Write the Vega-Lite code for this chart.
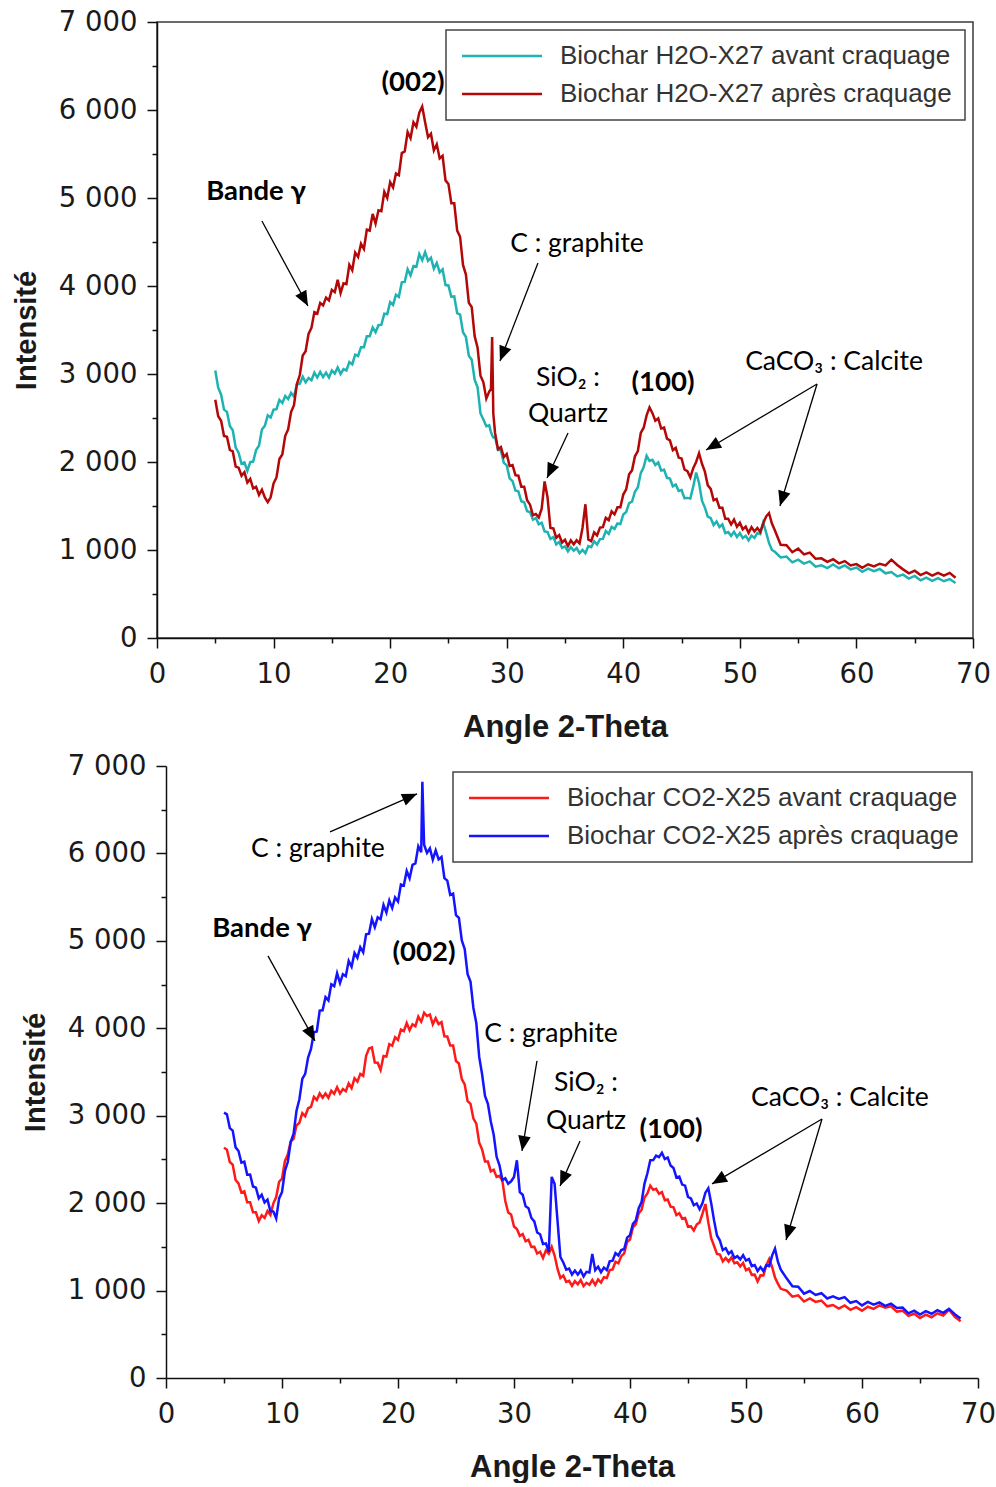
{
  "$schema": "https://vega.github.io/schema/vega-lite/v6.json",
  "background": "white",
  "padding": {"left": 11, "top": 7, "right": 0, "bottom": 0},
  "spacing": 8,
  "resolve": {"scale": {"color": "independent"}, "legend": {"color": "independent"}},
  "config": {
    "view": {"stroke": "#3a3a3a", "strokeWidth": 1.5},
    "line": {"strokeWidth": 2.5},
    "axis": {
      "grid": false,
      "domainColor": "#111",
      "domainWidth": 1.5,
      "tickColor": "#111",
      "tickWidth": 1.5,
      "labelFont": "DejaVu Sans",
      "labelFontSize": 27.5,
      "labelColor": "#1a1a1a",
      "labelFlush": false,
      "labelOverlap": false,
      "titleFont": "Liberation Sans",
      "titleFontSize": 30,
      "titleFontWeight": "bold",
      "titleColor": "#1a1a1a"
    },
    "legend": {
      "orient": "top-right",
      "offset": 8,
      "strokeColor": "#444",
      "strokeWidth": 1.5,
      "fillColor": "white",
      "padding": 13,
      "symbolType": "M-1,0H7",
      "symbolSize": 400,
      "symbolStrokeWidth": 2,
      "labelFont": "Liberation Sans",
      "labelFontSize": 26,
      "labelColor": "#333",
      "labelLimit": 600,
      "rowPadding": 12,
      "labelOffset": 75
    },
    "text": {"font": "Lato", "fontSize": 26.5, "color": "#000"}
  },
  "datasets": {
    "h2o": [
      {"x":5,"a":3040,"p":2708},{"x":5.25,"a":2845,"p":2520},{"x":5.5,"a":2765,"p":2468},{"x":5.75,"a":2595,"p":2296},
      {"x":6,"a":2570,"p":2286},{"x":6.25,"a":2410,"p":2138},{"x":6.5,"a":2360,"p":2120},{"x":6.75,"a":2165,"p":1948},
      {"x":7,"a":2105,"p":1936},{"x":7.25,"a":1980,"p":1844},{"x":7.5,"a":1995,"p":1884},{"x":7.75,"a":1900,"p":1766},
      {"x":8,"a":2000,"p":1808},{"x":8.25,"a":2005,"p":1700},{"x":8.5,"a":2135,"p":1718},{"x":8.75,"a":2185,"p":1626},
      {"x":9,"a":2370,"p":1686},{"x":9.25,"a":2410,"p":1598},{"x":9.5,"a":2530,"p":1545},{"x":9.75,"a":2505,"p":1598},
      {"x":10,"a":2595,"p":1756},{"x":10.25,"a":2600,"p":1824},{"x":10.5,"a":2705,"p":2034},{"x":10.75,"a":2670,"p":2086},
      {"x":11,"a":2750,"p":2298},{"x":11.25,"a":2715,"p":2370},{"x":11.5,"a":2785,"p":2568},{"x":11.75,"a":2745,"p":2646},
      {"x":12,"a":2880,"p":2886},{"x":12.25,"a":2890,"p":2988},{"x":12.5,"a":2970,"p":3210},{"x":12.75,"a":2905,"p":3258},
      {"x":13,"a":2955,"p":3456},{"x":13.25,"a":2930,"p":3524},{"x":13.5,"a":3015,"p":3704},{"x":13.75,"a":2960,"p":3686},
      {"x":14,"a":3025,"p":3808},{"x":14.25,"a":2965,"p":3780},{"x":14.5,"a":3015,"p":3868},{"x":14.75,"a":2960,"p":3836},
      {"x":15,"a":3040,"p":3956},{"x":15.25,"a":3005,"p":3930},{"x":15.5,"a":3075,"p":4070},{"x":15.75,"a":3000,"p":3920},
      {"x":16,"a":3055,"p":4030},{"x":16.25,"a":3040,"p":4020},{"x":16.5,"a":3135,"p":4240},{"x":16.75,"a":3110,"p":4180},
      {"x":17,"a":3220,"p":4380},{"x":17.25,"a":3205,"p":4330},{"x":17.5,"a":3305,"p":4480},{"x":17.75,"a":3305,"p":4420},
      {"x":18,"a":3430,"p":4640},{"x":18.25,"a":3430,"p":4630},{"x":18.5,"a":3530,"p":4820},{"x":18.75,"a":3475,"p":4710},
      {"x":19,"a":3555,"p":4860},{"x":19.25,"a":3560,"p":4850},{"x":19.5,"a":3685,"p":5070},{"x":19.75,"a":3680,"p":5000},
      {"x":20,"a":3816,"p":5180},{"x":20.25,"a":3785,"p":5120},{"x":20.5,"a":3901,"p":5280},{"x":20.75,"a":3877,"p":5260},
      {"x":21,"a":4042,"p":5510},{"x":21.25,"a":4046,"p":5530},{"x":21.5,"a":4190,"p":5750},{"x":21.75,"a":4121,"p":5680},
      {"x":22,"a":4227,"p":5860},{"x":22.25,"a":4218,"p":5810},{"x":22.5,"a":4363,"p":5970},{"x":22.75,"a":4292,"p":6040},
      {"x":23,"a":4386,"p":5860},{"x":23.25,"a":4285,"p":5690},{"x":23.5,"a":4321,"p":5730},{"x":23.75,"a":4197,"p":5540},
      {"x":24,"a":4262,"p":5610},{"x":24.25,"a":4156,"p":5450},{"x":24.5,"a":4190,"p":5480},{"x":24.75,"a":4011,"p":5200},
      {"x":25,"a":4007,"p":5160},{"x":25.25,"a":3878,"p":4940},{"x":25.5,"a":3883,"p":4940},{"x":25.75,"a":3692,"p":4630},
      {"x":26,"a":3676,"p":4560},{"x":26.25,"a":3475,"p":4240},{"x":26.5,"a":3421,"p":4130},{"x":26.75,"a":3207,"p":3810},
      {"x":27,"a":3162,"p":3760},{"x":27.25,"a":2936,"p":3430},{"x":27.5,"a":2850,"p":3300},{"x":27.75,"a":2551,"p":2980},
      {"x":28,"a":2484,"p":2905},{"x":28.25,"a":2406,"p":2720},{"x":28.5,"a":2416,"p":2800},{"x":28.65,"a":2340,"p":2830},
      {"x":28.75,"a":2304,"p":3420},{"x":28.85,"a":2280,"p":2550},{"x":29,"a":2282,"p":2330},{"x":29.25,"a":2142,"p":2145},
      {"x":29.5,"a":2130,"p":2170},{"x":29.75,"a":1990,"p":2055},{"x":30,"a":1962,"p":2090},{"x":30.25,"a":1814,"p":1955},
      {"x":30.5,"a":1782,"p":1965},{"x":30.75,"a":1676,"p":1850},{"x":31,"a":1666,"p":1845},{"x":31.25,"a":1554,"p":1720},
      {"x":31.5,"a":1542,"p":1720},{"x":31.75,"a":1440,"p":1565},{"x":32,"a":1432,"p":1515},{"x":32.25,"a":1344,"p":1395},
      {"x":32.5,"a":1364,"p":1410},{"x":32.75,"a":1292,"p":1370},{"x":33,"a":1310,"p":1470},{"x":33.25,"a":1212,"p":1780},
      {"x":33.5,"a":1204,"p":1600},{"x":33.75,"a":1126,"p":1250},{"x":34,"a":1146,"p":1245},{"x":34.25,"a":1064,"p":1140},
      {"x":34.5,"a":1092,"p":1170},{"x":34.75,"a":1025,"p":1085},{"x":35,"a":1042,"p":1115},{"x":35.25,"a":984,"p":1045},
      {"x":35.5,"a":1034,"p":1110},{"x":35.75,"a":992,"p":1065},{"x":36,"a":1022,"p":1110},{"x":36.25,"a":965,"p":1075},
      {"x":36.5,"a":1002,"p":1250},{"x":36.75,"a":964,"p":1520},{"x":37,"a":1044,"p":1120},{"x":37.25,"a":1032,"p":1100},
      {"x":37.5,"a":1100,"p":1200},{"x":37.75,"a":1062,"p":1165},{"x":38,"a":1124,"p":1255},{"x":38.25,"a":1126,"p":1260},
      {"x":38.5,"a":1216,"p":1365},{"x":38.75,"a":1184,"p":1340},{"x":39,"a":1262,"p":1440},{"x":39.25,"a":1240,"p":1405},
      {"x":39.5,"a":1302,"p":1485},{"x":39.75,"a":1294,"p":1485},{"x":40,"a":1404,"p":1630},{"x":40.25,"a":1432,"p":1690},
      {"x":40.5,"a":1532,"p":1860},{"x":40.75,"a":1550,"p":1905},{"x":41,"a":1662,"p":2065},{"x":41.25,"a":1714,"p":2125},
      {"x":41.5,"a":1874,"p":2330},{"x":41.75,"a":1942,"p":2390},{"x":42,"a":2070,"p":2530},{"x":42.25,"a":2012,"p":2620},
      {"x":42.5,"a":2024,"p":2555},{"x":42.75,"a":1966,"p":2470},{"x":43,"a":1996,"p":2495},{"x":43.25,"a":1904,"p":2380},
      {"x":43.5,"a":1912,"p":2390},{"x":43.75,"a":1820,"p":2265},{"x":44,"a":1812,"p":2245},{"x":44.25,"a":1724,"p":2135},
      {"x":44.5,"a":1744,"p":2160},{"x":44.75,"a":1672,"p":2050},{"x":45,"a":1682,"p":2040},{"x":45.25,"a":1590,"p":1915},
      {"x":45.5,"a":1592,"p":1895},{"x":45.75,"a":1584,"p":1825},{"x":46,"a":1720,"p":1930},{"x":46.25,"a":1880,"p":2000},
      {"x":46.5,"a":1760,"p":2100},{"x":46.75,"a":1560,"p":1980},{"x":47,"a":1482,"p":1890},{"x":47.25,"a":1380,"p":1735},
      {"x":47.5,"a":1362,"p":1695},{"x":47.75,"a":1284,"p":1565},{"x":48,"a":1324,"p":1580},{"x":48.25,"a":1262,"p":1480},
      {"x":48.5,"a":1290,"p":1480},{"x":48.75,"a":1192,"p":1355},{"x":49,"a":1204,"p":1355},{"x":49.25,"a":1161,"p":1290},
      {"x":49.5,"a":1206,"p":1345},{"x":49.75,"a":1149,"p":1265},{"x":50,"a":1192,"p":1310},{"x":50.25,"a":1135,"p":1235},
      {"x":50.5,"a":1162,"p":1265},{"x":50.75,"a":1109,"p":1195},{"x":51,"a":1164,"p":1260},{"x":51.25,"a":1137,"p":1210},
      {"x":51.5,"a":1192,"p":1250},{"x":51.75,"a":1180,"p":1205},{"x":52,"a":1310,"p":1300},{"x":52.25,"a":1200,"p":1380},
      {"x":52.5,"a":1080,"p":1420},{"x":52.75,"a":1000,"p":1300},{"x":53,"a":980,"p":1225},{"x":53.5,"a":915,"p":1060},
      {"x":54,"a":925,"p":1055},{"x":54.5,"a":860,"p":975},{"x":55,"a":890,"p":1015},{"x":55.5,"a":845,"p":950},
      {"x":56,"a":870,"p":970},{"x":56.5,"a":810,"p":900},{"x":57,"a":825,"p":905},{"x":57.5,"a":795,"p":865},
      {"x":58,"a":835,"p":895},{"x":58.5,"a":793,"p":848},{"x":59,"a":824,"p":874},{"x":59.5,"a":780,"p":825},
      {"x":60,"a":800,"p":840},{"x":60.5,"a":753,"p":798},{"x":61,"a":788,"p":838},{"x":61.5,"a":759,"p":814},
      {"x":62,"a":784,"p":844},{"x":62.5,"a":735,"p":825},{"x":63,"a":750,"p":890},{"x":63.5,"a":700,"p":830},
      {"x":64,"a":720,"p":780},{"x":64.5,"a":675,"p":735},{"x":65,"a":705,"p":765},{"x":65.5,"a":655,"p":715},
      {"x":66,"a":685,"p":745},{"x":66.5,"a":650,"p":710},{"x":67,"a":680,"p":740},{"x":67.5,"a":645,"p":710},
      {"x":68,"a":670,"p":740},{"x":68.5,"a":625,"p":685}
    ],
    "co2": [
      {"x":5,"a":2635,"p":3036},{"x":5.25,"a":2610,"p":3016},{"x":5.5,"a":2470,"p":2858},{"x":5.75,"a":2440,"p":2830},
      {"x":6,"a":2265,"p":2638},{"x":6.25,"a":2225,"p":2596},{"x":6.5,"a":2120,"p":2464},{"x":6.75,"a":2135,"p":2474},
      {"x":7,"a":2010,"p":2326},{"x":7.25,"a":2010,"p":2328},{"x":7.5,"a":1895,"p":2190},{"x":7.75,"a":1895,"p":2178},
      {"x":8,"a":1795,"p":2056},{"x":8.25,"a":1860,"p":2096},{"x":8.5,"a":1830,"p":2008},{"x":8.75,"a":1910,"p":2040},
      {"x":9,"a":1865,"p":1908},{"x":9.25,"a":1995,"p":1906},{"x":9.5,"a":2070,"p":1824},{"x":9.75,"a":2245,"p":2054},
      {"x":10,"a":2280,"p":2126},{"x":10.25,"a":2480,"p":2368},{"x":10.5,"a":2555,"p":2470},{"x":10.75,"a":2705,"p":2698},
      {"x":11,"a":2735,"p":2796},{"x":11.25,"a":2890,"p":3056},{"x":11.5,"a":2920,"p":3188},{"x":11.75,"a":3030,"p":3420},
      {"x":12,"a":2995,"p":3478},{"x":12.25,"a":3085,"p":3666},{"x":12.5,"a":3100,"p":3764},{"x":12.75,"a":3215,"p":3954},
      {"x":13,"a":3180,"p":3964},{"x":13.25,"a":3255,"p":4202},{"x":13.5,"a":3205,"p":4205},{"x":13.75,"a":3255,"p":4357},
      {"x":14,"a":3205,"p":4319},{"x":14.25,"a":3285,"p":4504},{"x":14.5,"a":3250,"p":4482},{"x":14.75,"a":3325,"p":4630},
      {"x":15,"a":3255,"p":4517},{"x":15.25,"a":3305,"p":4619},{"x":15.5,"a":3280,"p":4596},{"x":15.75,"a":3370,"p":4771},
      {"x":16,"a":3316,"p":4704},{"x":16.25,"a":3428,"p":4862},{"x":16.5,"a":3390,"p":4805},{"x":16.75,"a":3478,"p":4927},
      {"x":17,"a":3456,"p":4869},{"x":17.25,"a":3686,"p":5074},{"x":17.5,"a":3768,"p":5082},{"x":17.75,"a":3780,"p":5250},
      {"x":18,"a":3608,"p":5157},{"x":18.25,"a":3606,"p":5269},{"x":18.5,"a":3524,"p":5246},{"x":18.75,"a":3684,"p":5411},
      {"x":19,"a":3676,"p":5324},{"x":19.25,"a":3818,"p":5462},{"x":19.5,"a":3800,"p":5375},{"x":19.75,"a":3898,"p":5497},
      {"x":20,"a":3866,"p":5449},{"x":20.25,"a":3986,"p":5644},{"x":20.5,"a":3968,"p":5632},{"x":20.75,"a":4060,"p":5800},
      {"x":21,"a":3978,"p":5717},{"x":21.25,"a":4046,"p":5869},{"x":21.5,"a":4024,"p":5886},{"x":21.75,"a":4134,"p":6081},
      {"x":22,"a":4076,"p":6014},{"x":22.1,"a":4110,"p":6820},{"x":22.25,"a":4178,"p":6100},{"x":22.5,"a":4140,"p":6005},
      {"x":22.75,"a":4158,"p":6057},{"x":23,"a":4046,"p":5929},{"x":23.25,"a":4116,"p":6034},{"x":23.5,"a":4048,"p":5932},
      {"x":23.75,"a":4070,"p":5960},{"x":24,"a":3908,"p":5717},{"x":24.25,"a":3906,"p":5689},{"x":24.5,"a":3804,"p":5526},
      {"x":24.75,"a":3804,"p":5541},{"x":25,"a":3626,"p":5294},{"x":25.25,"a":3598,"p":5262},{"x":25.5,"a":3420,"p":5005},
      {"x":25.75,"a":3358,"p":4907},{"x":26,"a":3166,"p":4619},{"x":26.25,"a":3136,"p":4534},{"x":26.5,"a":2968,"p":4232},
      {"x":26.75,"a":2910,"p":4060},{"x":27,"a":2692,"p":3672},{"x":27.25,"a":2614,"p":3474},{"x":27.5,"a":2476,"p":3226},
      {"x":27.75,"a":2476,"p":3136},{"x":28,"a":2364,"p":2934},{"x":28.25,"a":2382,"p":2782},{"x":28.5,"a":2300,"p":2530},
      {"x":28.75,"a":2312,"p":2432},{"x":29,"a":2254,"p":2264},{"x":29.25,"a":2024,"p":2284},{"x":29.5,"a":1892,"p":2222},
      {"x":29.75,"a":1870,"p":2250},{"x":30,"a":1732,"p":2300},{"x":30.25,"a":1704,"p":2490},{"x":30.5,"a":1626,"p":2126},
      {"x":30.75,"a":1646,"p":2096},{"x":31,"a":1564,"p":1964},{"x":31.25,"a":1582,"p":1942},{"x":31.5,"a":1500,"p":1830},
      {"x":31.75,"a":1502,"p":1792},{"x":32,"a":1424,"p":1664},{"x":32.25,"a":1444,"p":1644},{"x":32.5,"a":1372,"p":1532},
      {"x":32.75,"a":1460,"p":1540},{"x":33,"a":1422,"p":1442},{"x":33.25,"a":1500,"p":2300},{"x":33.5,"a":1400,"p":2220},
      {"x":33.75,"a":1250,"p":1800},{"x":34,"a":1144,"p":1384},{"x":34.25,"a":1172,"p":1322},{"x":34.5,"a":1100,"p":1240},
      {"x":34.75,"a":1112,"p":1252},{"x":35,"a":1054,"p":1184},{"x":35.25,"a":1109,"p":1229},{"x":35.5,"a":1072,"p":1182},
      {"x":35.75,"a":1120,"p":1230},{"x":36,"a":1052,"p":1162},{"x":36.25,"a":1089,"p":1214},{"x":36.5,"a":1066,"p":1206},
      {"x":36.75,"a":1121,"p":1420},{"x":37,"a":1064,"p":1234},{"x":37.25,"a":1127,"p":1272},{"x":37.5,"a":1090,"p":1210},
      {"x":37.75,"a":1152,"p":1262},{"x":38,"a":1144,"p":1234},{"x":38.25,"a":1234,"p":1334},{"x":38.5,"a":1242,"p":1342},
      {"x":38.75,"a":1330,"p":1430},{"x":39,"a":1312,"p":1402},{"x":39.25,"a":1394,"p":1464},{"x":39.5,"a":1426,"p":1476},
      {"x":39.75,"a":1556,"p":1606},{"x":40,"a":1584,"p":1634},{"x":40.25,"a":1722,"p":1762},{"x":40.5,"a":1760,"p":1800},
      {"x":40.75,"a":1882,"p":1942},{"x":41,"a":1924,"p":2014},{"x":41.25,"a":2064,"p":2224},{"x":41.5,"a":2112,"p":2342},
      {"x":41.75,"a":2200,"p":2490},{"x":42,"a":2152,"p":2492},{"x":42.25,"a":2164,"p":2544},{"x":42.5,"a":2106,"p":2526},
      {"x":42.75,"a":2126,"p":2576},{"x":43,"a":2034,"p":2504},{"x":43.25,"a":2042,"p":2522},{"x":43.5,"a":1960,"p":2430},
      {"x":43.75,"a":1952,"p":2402},{"x":44,"a":1864,"p":2294},{"x":44.25,"a":1884,"p":2304},{"x":44.5,"a":1822,"p":2212},
      {"x":44.75,"a":1830,"p":2200},{"x":45,"a":1732,"p":2072},{"x":45.25,"a":1734,"p":2054},{"x":45.5,"a":1686,"p":1976},
      {"x":45.75,"a":1756,"p":1996},{"x":46,"a":1780,"p":1930},{"x":46.25,"a":1880,"p":2000},{"x":46.5,"a":1990,"p":2120},
      {"x":46.75,"a":1780,"p":2170},{"x":47,"a":1600,"p":2000},{"x":47.25,"a":1510,"p":1800},{"x":47.5,"a":1420,"p":1630},
      {"x":47.75,"a":1412,"p":1572},{"x":48,"a":1334,"p":1464},{"x":48.25,"a":1374,"p":1484},{"x":48.5,"a":1332,"p":1422},
      {"x":48.75,"a":1380,"p":1450},{"x":49,"a":1312,"p":1372},{"x":49.25,"a":1324,"p":1394},{"x":49.5,"a":1276,"p":1356},
      {"x":49.75,"a":1316,"p":1406},{"x":50,"a":1234,"p":1344},{"x":50.25,"a":1252,"p":1362},{"x":50.5,"a":1180,"p":1280},
      {"x":50.75,"a":1182,"p":1292},{"x":51,"a":1104,"p":1224},{"x":51.25,"a":1174,"p":1269},{"x":51.5,"a":1172,"p":1222},
      {"x":51.75,"a":1290,"p":1290},{"x":52,"a":1360,"p":1280},{"x":52.25,"a":1270,"p":1400},{"x":52.5,"a":1150,"p":1480},
      {"x":52.75,"a":1080,"p":1330},{"x":53,"a":1020,"p":1240},{"x":53.5,"a":1000,"p":1140},{"x":54,"a":930,"p":1050},
      {"x":54.5,"a":945,"p":1045},{"x":55,"a":875,"p":965},{"x":55.5,"a":910,"p":995},{"x":56,"a":870,"p":950},
      {"x":56.5,"a":885,"p":970},{"x":57,"a":820,"p":910},{"x":57.5,"a":835,"p":935},{"x":58,"a":795,"p":905},
      {"x":58.5,"a":830,"p":925},{"x":59,"a":780,"p":860},{"x":59.5,"a":810,"p":880},{"x":60,"a":770,"p":830},
      {"x":60.5,"a":815,"p":870},{"x":61,"a":790,"p":840},{"x":61.5,"a":830,"p":865},{"x":62,"a":805,"p":825},
      {"x":62.5,"a":820,"p":850},{"x":63,"a":760,"p":800},{"x":63.5,"a":770,"p":805},{"x":64,"a":710,"p":740},
      {"x":64.5,"a":735,"p":770},{"x":65,"a":685,"p":725},{"x":65.5,"a":725,"p":765},{"x":66,"a":695,"p":735},
      {"x":66.5,"a":740,"p":775},{"x":67,"a":715,"p":745},{"x":67.5,"a":780,"p":790},{"x":68,"a":700,"p":730},
      {"x":68.5,"a":650,"p":680}
    ],
    "labels1": [
      {"x":21.96,"y":6307,"text":"(002)","kind":"band"},
      {"x":8.49,"y":5068,"text":"Bande γ","kind":"band"},
      {"x":43.41,"y":2898,"text":"(100)","kind":"band"},
      {"x":36.03,"y":4477,"text":"C : graphite","kind":"phase"},
      {"x":35.26,"y":2955,"text":"SiO₂ :","kind":"phase"},
      {"x":35.26,"y":2545,"text":"Quartz","kind":"phase"},
      {"x":58.08,"y":3136,"text":"CaCO₃ : Calcite","kind":"phase"}
    ],
    "arrows1": [
      {"x":9.0,"y":4739,"x2":12.95,"y2":3773},
      {"x":32.68,"y":4261,"x2":29.42,"y2":3148},
      {"x":35.26,"y":2330,"x2":33.46,"y2":1818},
      {"x":56.62,"y":2886,"x2":47.1,"y2":2136},
      {"x":56.62,"y":2886,"x2":53.44,"y2":1500}
    ],
    "labels2": [
      {"x":13.1,"y":6053,"text":"C : graphite","kind":"phase"},
      {"x":8.28,"y":5137,"text":"Bande γ","kind":"band"},
      {"x":22.24,"y":4863,"text":"(002)","kind":"band"},
      {"x":33.19,"y":3936,"text":"C : graphite","kind":"phase"},
      {"x":36.21,"y":3375,"text":"SiO₂ :","kind":"phase"},
      {"x":36.21,"y":2941,"text":"Quartz","kind":"phase"},
      {"x":43.53,"y":2838,"text":"(100)","kind":"band"},
      {"x":58.1,"y":3204,"text":"CaCO₃ : Calcite","kind":"phase"}
    ],
    "arrows2": [
      {"x":14.14,"y":6247,"x2":21.64,"y2":6682},
      {"x":8.79,"y":4828,"x2":12.84,"y2":3856},
      {"x":31.98,"y":3627,"x2":30.69,"y2":2597},
      {"x":35.69,"y":2712,"x2":33.97,"y2":2197},
      {"x":56.55,"y":2963,"x2":47.07,"y2":2220},
      {"x":56.55,"y":2963,"x2":53.45,"y2":1579}
    ]
  },
  "vconcat": [
    {
      "width": 816,
      "height": 616,
      "layer": [
        {
          "data": {"name": "h2o"},
          "mark": {"type": "line"},
          "encoding": {
            "x": {"field": "x", "type": "quantitative", "title": "Angle 2-Theta",
              "scale": {"domain": [0, 70], "nice": false},
              "axis": {"values": [0,5,10,15,20,25,30,35,40,45,50,55,60,65,70],
                "labelExpr": "datum.value % 10 === 0 ? datum.label : ''",
                "tickSize": {"condition": {"test": "datum.value % 10 === 0", "value": 10}, "value": 5},
                "labelPadding": 12, "titlePadding": 25, "titleFontSize": 31}},
            "y": {"field": "a", "type": "quantitative", "title": "Intensité",
              "scale": {"domain": [0, 7000], "nice": false},
              "axis": {"values": [0,500,1000,1500,2000,2500,3000,3500,4000,4500,5000,5500,6000,6500,7000],
                "labelExpr": "datum.value % 1000 === 0 ? replace(format(datum.value, ','), ',', ' ') : ''",
                "tickSize": {"condition": {"test": "datum.value % 1000 === 0", "value": 10}, "value": 5},
                "labelPadding": 10, "titlePadding": 17, "titleFontSize": 29}},
            "color": {"datum": "Biochar H2O-X27 avant craquage",
              "scale": {"domain": ["Biochar H2O-X27 avant craquage", "Biochar H2O-X27 après craquage"], "range": ["#1fb2b2", "#b30808"]},
              "legend": {"title": null}}
          }
        },
        {
          "data": {"name": "h2o"},
          "mark": {"type": "line"},
          "encoding": {
            "x": {"field": "x", "type": "quantitative", "title": "Angle 2-Theta"},
            "y": {"field": "p", "type": "quantitative", "title": "Intensité"},
            "color": {"datum": "Biochar H2O-X27 après craquage"}
          }
        },
        {
          "data": {"name": "arrows1"},
          "mark": {"type": "rule", "color": "#000", "strokeWidth": 1.3},
          "encoding": {
            "x": {"field": "x", "type": "quantitative", "title": "Angle 2-Theta"},
            "y": {"field": "y", "type": "quantitative", "title": "Intensité"},
            "x2": {"field": "x2"},
            "y2": {"field": "y2"}
          }
        },
        {
          "data": {"name": "arrows1"},
          "transform": [{"calculate": "atan2((datum.x2 - datum.x) * 11.66, (datum.y2 - datum.y) * 0.088) * 180 / PI", "as": "ang"}],
          "mark": {"type": "point", "shape": "M0,0L0.42,1L-0.42,1Z", "filled": true, "color": "#000", "opacity": 1, "size": 900, "strokeWidth": 0},
          "encoding": {
            "x": {"field": "x2", "type": "quantitative", "title": "Angle 2-Theta"},
            "y": {"field": "y2", "type": "quantitative", "title": "Intensité"},
            "angle": {"field": "ang", "type": "quantitative", "scale": null}
          }
        },
        {
          "data": {"name": "labels1"},
          "transform": [{"filter": "datum.kind === 'band'"}],
          "mark": {"type": "text", "fontWeight": "bold", "fontSize": 27.5},
          "encoding": {
            "x": {"field": "x", "type": "quantitative", "title": "Angle 2-Theta"},
            "y": {"field": "y", "type": "quantitative", "title": "Intensité"},
            "text": {"field": "text"}
          }
        },
        {
          "data": {"name": "labels1"},
          "transform": [{"filter": "datum.kind === 'phase'"}],
          "mark": {"type": "text", "fontWeight": "normal"},
          "encoding": {
            "x": {"field": "x", "type": "quantitative", "title": "Angle 2-Theta"},
            "y": {"field": "y", "type": "quantitative", "title": "Intensité"},
            "text": {"field": "text"}
          }
        }
      ]
    },
    {
      "width": 821,
      "height": 612,
      "view": {"stroke": null},
      "layer": [
        {
          "data": {"name": "co2"},
          "mark": {"type": "line"},
          "encoding": {
            "x": {"field": "x", "type": "quantitative", "title": "Angle 2-Theta",
              "scale": {"domain": [0, 70], "nice": false, "range": [9, 821]},
              "axis": {"values": [0,5,10,15,20,25,30,35,40,45,50,55,60,65,70],
                "labelExpr": "datum.value % 10 === 0 ? datum.label : ''",
                "tickSize": {"condition": {"test": "datum.value % 10 === 0", "value": 10}, "value": 5},
                "labelPadding": 12, "titlePadding": 25, "titleFontSize": 31}},
            "y": {"field": "a", "type": "quantitative", "title": "Intensité",
              "scale": {"domain": [0, 7000], "nice": false},
              "axis": {"values": [0,500,1000,1500,2000,2500,3000,3500,4000,4500,5000,5500,6000,6500,7000],
                "labelExpr": "datum.value % 1000 === 0 ? replace(format(datum.value, ','), ',', ' ') : ''",
                "tickSize": {"condition": {"test": "datum.value % 1000 === 0", "value": 10}, "value": 5},
                "offset": -9,
                "labelPadding": 10, "titlePadding": 17, "titleFontSize": 29}},
            "color": {"datum": "Biochar CO2-X25 avant craquage",
              "scale": {"domain": ["Biochar CO2-X25 avant craquage", "Biochar CO2-X25 après craquage"], "range": ["#ff1a1a", "#1414ff"]},
              "legend": {"title": null, "offset": 6}}
          }
        },
        {
          "data": {"name": "co2"},
          "mark": {"type": "line"},
          "encoding": {
            "x": {"field": "x", "type": "quantitative", "title": "Angle 2-Theta"},
            "y": {"field": "p", "type": "quantitative", "title": "Intensité"},
            "color": {"datum": "Biochar CO2-X25 après craquage"}
          }
        },
        {
          "mark": {"type": "rule", "color": "#3a3a3a", "strokeWidth": 1.5},
          "encoding": {
            "x": {"datum": 0, "type": "quantitative"},
            "x2": {"datum": 70},
            "y": {"datum": 7000, "type": "quantitative"}
          }
        },
        {
          "mark": {"type": "rule", "color": "#3a3a3a", "strokeWidth": 1.5},
          "encoding": {
            "x": {"datum": 70, "type": "quantitative"},
            "y": {"datum": 0, "type": "quantitative"},
            "y2": {"datum": 7000}
          }
        },
        {
          "data": {"name": "arrows2"},
          "mark": {"type": "rule", "color": "#000", "strokeWidth": 1.3},
          "encoding": {
            "x": {"field": "x", "type": "quantitative", "title": "Angle 2-Theta"},
            "y": {"field": "y", "type": "quantitative", "title": "Intensité"},
            "x2": {"field": "x2"},
            "y2": {"field": "y2"}
          }
        },
        {
          "data": {"name": "arrows2"},
          "transform": [{"calculate": "atan2((datum.x2 - datum.x) * 11.6, (datum.y2 - datum.y) * 0.0874) * 180 / PI", "as": "ang"}],
          "mark": {"type": "point", "shape": "M0,0L0.42,1L-0.42,1Z", "filled": true, "color": "#000", "opacity": 1, "size": 900, "strokeWidth": 0},
          "encoding": {
            "x": {"field": "x2", "type": "quantitative", "title": "Angle 2-Theta"},
            "y": {"field": "y2", "type": "quantitative", "title": "Intensité"},
            "angle": {"field": "ang", "type": "quantitative", "scale": null}
          }
        },
        {
          "data": {"name": "labels2"},
          "transform": [{"filter": "datum.kind === 'band'"}],
          "mark": {"type": "text", "fontWeight": "bold", "fontSize": 27.5},
          "encoding": {
            "x": {"field": "x", "type": "quantitative", "title": "Angle 2-Theta"},
            "y": {"field": "y", "type": "quantitative", "title": "Intensité"},
            "text": {"field": "text"}
          }
        },
        {
          "data": {"name": "labels2"},
          "transform": [{"filter": "datum.kind === 'phase'"}],
          "mark": {"type": "text", "fontWeight": "normal"},
          "encoding": {
            "x": {"field": "x", "type": "quantitative", "title": "Angle 2-Theta"},
            "y": {"field": "y", "type": "quantitative", "title": "Intensité"},
            "text": {"field": "text"}
          }
        }
      ]
    }
  ]
}
